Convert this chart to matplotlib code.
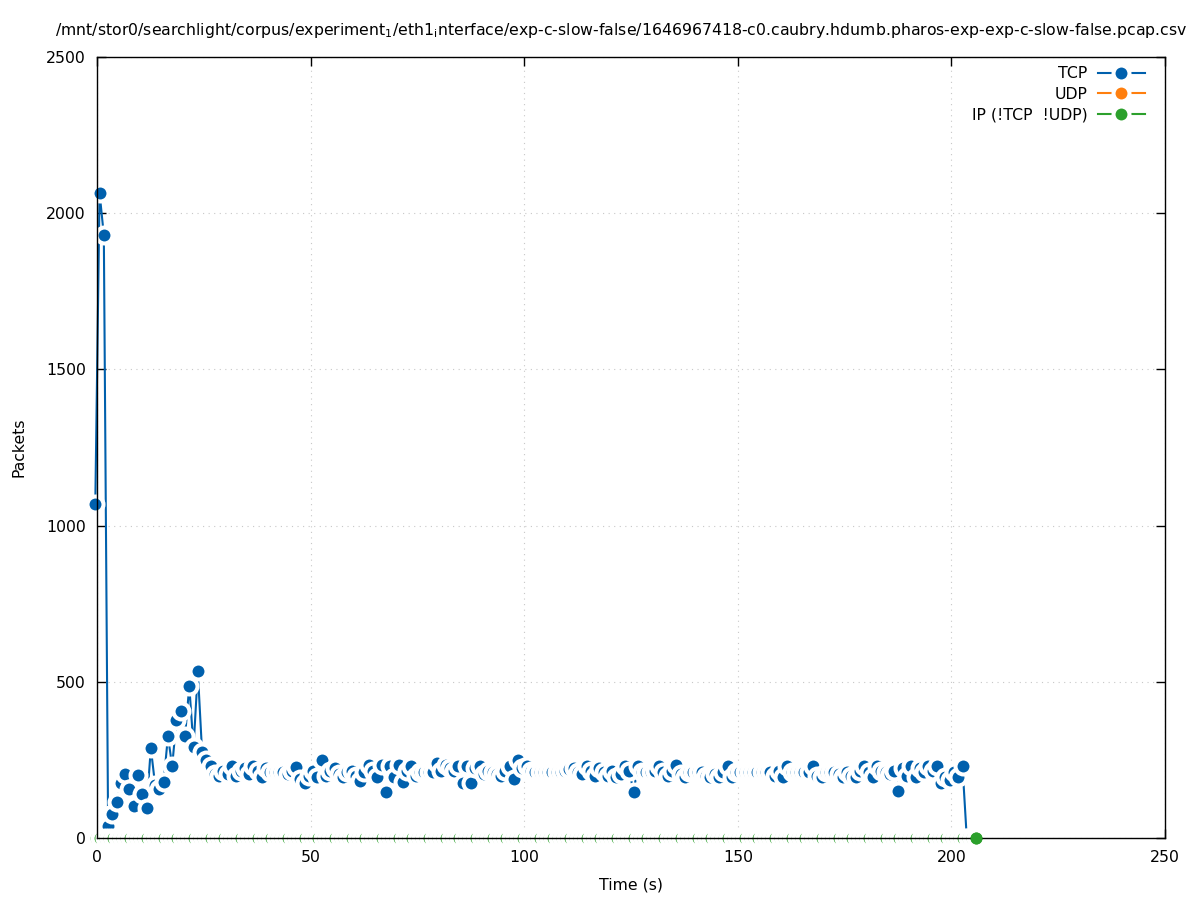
import numpy as np
import matplotlib
matplotlib.use("Agg")
import matplotlib.pyplot as plt

# packets per 1 s bin, TCP
tcp_pkts = [
    1069, 2065, 1930, 40, 77, 115, 175, 205, 157, 103,
    202, 141, 96, 288, 170, 157, 180, 325, 231, 378,
    406, 325, 487, 290, 533, 274, 250, 230,
    205, 200, 215, 205, 230, 200, 215, 225, 205, 230,
    215, 195, 225, 210, 210, 210, 212, 205, 215, 228,
    190, 175, 200, 215, 195, 250, 200, 215, 225, 205,
    195, 210, 215, 200, 182, 210, 235, 215, 195, 235,
    147, 230, 195, 235, 180, 215, 230, 200, 210, 212,
    212, 210, 240, 215, 235, 225, 215, 230, 175, 230,
    175, 225, 230, 205, 215, 210, 205, 200, 215, 230,
    190, 250, 225, 230, 215, 212, 212, 212, 212, 212,
    212, 212, 215, 220, 225, 210, 205, 230, 215, 200,
    225, 210, 200, 215, 195, 205, 230, 215, 147, 230,
    212, 212, 212, 215, 230, 210, 200, 215, 235, 205,
    195, 212, 212, 212, 210, 200, 195, 205, 195, 210,
    230, 195, 212, 212, 212, 212, 212, 212, 212, 212,
    210, 200, 215, 195, 230, 210, 212, 212, 212, 210,
    232, 200, 195, 212, 212, 210, 205, 195, 210, 200,
    195, 215, 230, 210, 195, 230, 215, 210, 205, 215,
    150, 225, 200, 230, 195, 225, 210, 230, 215, 230,
    175, 195, 187, 210, 195, 230, 0,
]
tcp_t = np.arange(len(tcp_pkts)) - 0.4

# UDP: nothing captured
udp_t = []
udp_pkts = []

# IP (not TCP / not UDP): zero in every bin, two bins longer than TCP
ip_t = np.arange(len(tcp_pkts) + 2) - 0.2
ip_pkts = np.zeros(len(ip_t))

title = ("/mnt/stor0/searchlight/corpus/experiment$_1$/eth1$_\\mathrm{i}$nterface/"
         "exp-c-slow-false/1646967418-c0.caubry.hdumb.pharos-exp-exp-c-slow-false.pcap.csv")

plt.rcParams['font.family'] = 'DejaVu Sans'
fs = 11.3
plt.rcParams['font.size'] = fs

fig = plt.figure(figsize=(11.97, 9.0), dpi=100)
ax = fig.add_axes([97/1197, 1-838/900, (1165-97)/1197, (838-57)/900])

# face radius ~6 px, white halo radius ~10 px
ms = 11.5
mew = 2.9
style = dict(lw=1.5, marker='o', ms=ms, mew=mew, mec='white', clip_on=False)

ax.plot(tcp_t, tcp_pkts, color='#0060ad', label='TCP', zorder=2.0, **style)
ax.plot(udp_t, udp_pkts, color='#ff7f0e', label='UDP', zorder=2.1, **style)
ax.plot(ip_t, ip_pkts, color='#2ca02c', label='IP (!TCP  !UDP)', zorder=2.2, **style)
# last IP point sits on top of the border
ax.plot(ip_t[-1:], ip_pkts[-1:], color='#2ca02c', ls='none', marker='o',
        ms=ms - mew, mew=0, clip_on=False, zorder=3)

ax.set_xlim(0, 250)
ax.set_ylim(0, 2500)
ax.set_xticks([0, 50, 100, 150, 200, 250])
ax.set_yticks([0, 500, 1000, 1500, 2000, 2500])
ax.tick_params(direction='in', length=6.5, width=1, top=True, right=True,
               labelsize=fs)
ax.tick_params(axis='y', pad=8)
ax.tick_params(axis='x', pad=9)
ax.grid(True, ls=(0, (1, 4)), color='#c8c8c8', lw=0.8)
for s in ax.spines.values():
    s.set_linewidth(1)
    s.set_zorder(2.5)

ax.set_xlabel('Time (s)', fontsize=fs, labelpad=9)
ax.set_ylabel('Packets', fontsize=fs, labelpad=14)

fig.text(55/1197, 1-30/900, title, ha='left', va='center', fontsize=11.35)

leg = ax.legend(loc='upper right', bbox_to_anchor=(1 - 20/1068, 1 - 9/781),
                frameon=False, markerfirst=False, borderpad=0, borderaxespad=0,
                handlelength=3.0, handletextpad=0.65, labelspacing=0.36,
                fontsize=fs)

fig.savefig('out.png', dpi=100)
